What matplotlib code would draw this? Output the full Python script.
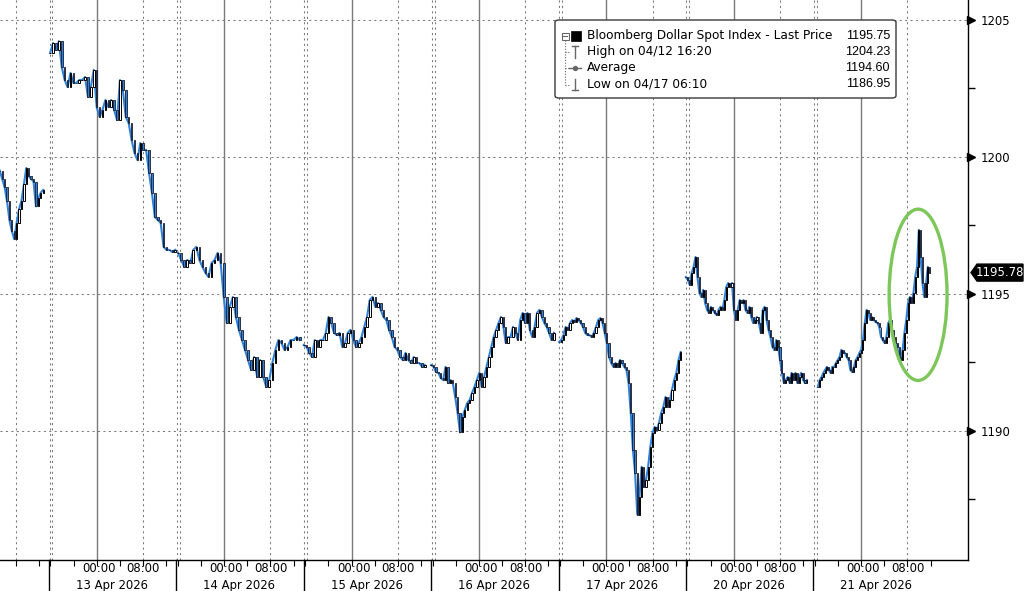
import numpy as np
import matplotlib
matplotlib.use("Agg")
import matplotlib.pyplot as plt
from matplotlib.patches import Polygon, Ellipse, FancyBboxPatch, Rectangle
from matplotlib.transforms import IdentityTransform
from matplotlib.lines import Line2D

plt.rcParams['font.family'] = ['DejaVu Sans']

# ---------------- data ----------------
session_dates = ["12 Apr 2026", "13 Apr 2026", "14 Apr 2026", "15 Apr 2026",
                 "16 Apr 2026", "17 Apr 2026", "20 Apr 2026", "21 Apr 2026"]
# hours after the 15:45 session open covered by each session's prints
session_span = [(13.5, 21.0), (0.2, 21.8), (0.3, 21.3), (0.0, 20.9),
                (0.0, 21.2), (0.1, 21.1), (0.0, 20.9), (0.8, 20.1)]

closes_12apr = [1199.5, 1199.2, 1198.9, 1198.4, 1197.7, 1197.3, 1197.0, 1197.6, 1198.1,
                1198.4, 1199.0, 1199.6, 1199.3, 1199.2, 1199.1, 1198.2, 1198.5, 1198.7, 1198.8]
closes_13apr = [1203.80, 1204.16, 1203.91, 1204.23, 1203.28, 1202.81, 1202.55, 1203.07, 1202.70,
                1202.70, 1202.81, 1202.81, 1202.92, 1202.19, 1202.55, 1203.18, 1201.82, 1201.46,
                1201.72, 1202.08, 1201.82, 1202.08, 1201.72, 1201.35, 1202.81, 1202.45, 1201.46,
                1201.24, 1200.62, 1200.15, 1199.89, 1200.51, 1200.26, 1200.26, 1199.42, 1198.69,
                1197.81, 1197.70, 1197.59, 1196.72, 1196.61, 1196.61, 1196.53, 1196.61]
closes_14apr = [1196.50, 1196.24, 1195.99, 1196.24, 1196.13, 1196.61, 1196.72, 1196.24, 1195.99,
                1195.77, 1195.62, 1196.13, 1196.24, 1196.50, 1196.13, 1194.89, 1193.94, 1194.53,
                1194.89, 1194.16, 1193.69, 1193.32, 1192.96, 1192.59, 1192.23, 1192.70, 1191.97,
                1192.59, 1191.97, 1191.61, 1191.86, 1192.48, 1192.96, 1193.32, 1193.21, 1192.96,
                1193.07, 1193.32, 1193.32, 1193.43, 1193.32]
closes_15apr = [1193.14, 1193.07, 1192.85, 1192.70, 1193.32, 1193.07, 1193.32, 1193.32, 1193.58,
                1194.16, 1193.94, 1193.58, 1193.50, 1193.58, 1193.07, 1193.21, 1193.58, 1193.69,
                1193.32, 1193.07, 1193.21, 1193.43, 1193.80, 1194.16, 1194.78, 1194.89, 1194.53,
                1194.67, 1194.42, 1194.16, 1194.05, 1193.69, 1193.43, 1193.07, 1192.96, 1192.70,
                1192.59, 1192.85, 1192.59, 1192.48, 1192.70, 1192.48, 1192.48, 1192.34, 1192.41]
closes_16apr = [1192.41, 1192.34, 1192.15, 1192.12, 1191.93, 1191.86, 1192.34, 1191.75, 1191.86,
                1191.75, 1191.24, 1190.66, 1189.95, 1190.51, 1190.77, 1191.02, 1191.13, 1191.39,
                1191.61, 1191.86, 1192.12, 1191.61, 1191.97, 1192.34, 1192.70, 1193.07, 1193.43,
                1193.69, 1193.94, 1194.16, 1193.80, 1193.21, 1193.43, 1193.43, 1193.80, 1193.58,
                1193.32, 1194.05, 1194.31, 1193.94, 1194.31, 1193.69, 1193.43, 1193.80, 1194.31,
                1194.42, 1194.16, 1193.94, 1193.80, 1193.58, 1193.32, 1193.58]
closes_17apr = [1193.25, 1193.32, 1193.50, 1193.80, 1193.69, 1193.94, 1194.05, 1193.98, 1194.12,
                1194.05, 1193.94, 1193.80, 1193.58, 1193.50, 1193.50, 1193.43, 1193.58, 1193.80,
                1194.05, 1194.12, 1193.94, 1193.58, 1193.21, 1192.70, 1192.48, 1192.34, 1192.48,
                1192.34, 1192.59, 1192.48, 1192.34, 1192.23, 1191.75, 1190.66, 1189.31, 1188.47,
                1186.95, 1187.60, 1188.69, 1187.96, 1188.21, 1188.69, 1189.42, 1189.93, 1190.15,
                1190.04, 1190.29, 1190.66, 1190.88, 1191.24, 1190.88, 1191.13, 1191.50, 1191.86,
                1192.12, 1192.59, 1192.88]
closes_20apr = [1195.62, 1195.51, 1195.33, 1195.77, 1195.99, 1196.35, 1195.62, 1195.04, 1194.89,
                1195.15, 1194.67, 1194.42, 1194.31, 1194.53, 1194.42, 1194.31, 1194.23, 1194.42,
                1194.53, 1194.42, 1194.78, 1195.26, 1195.40, 1195.26, 1195.40, 1194.42, 1194.05,
                1194.42, 1194.78, 1194.67, 1194.78, 1194.42, 1194.31, 1194.53, 1194.16, 1193.94,
                1194.05, 1194.16, 1193.94, 1193.58, 1194.42, 1194.53, 1194.05, 1193.69, 1193.43,
                1193.07, 1192.96, 1193.32, 1193.07, 1192.59, 1192.12, 1191.75, 1191.86, 1191.97,
                1191.75, 1192.12, 1191.86, 1192.12, 1191.75, 1191.97, 1192.12, 1191.86, 1191.75,
                1191.86]
closes_21apr = [1191.61, 1191.86, 1191.97, 1192.12, 1192.23, 1192.34, 1192.23, 1192.12, 1192.34,
                1192.34, 1192.48, 1192.59, 1192.70, 1192.96, 1192.85, 1192.85, 1192.70, 1192.59,
                1192.23, 1192.15, 1192.34, 1192.59, 1192.70, 1192.85, 1192.96, 1193.32, 1193.94,
                1194.42, 1194.31, 1194.05, 1194.16, 1194.05, 1193.98, 1193.94, 1193.80, 1193.43,
                1193.32, 1193.21, 1193.43, 1193.94, 1194.05, 1193.69, 1193.43, 1193.21, 1193.07,
                1192.70, 1192.59, 1192.96, 1193.58, 1194.05, 1194.67, 1194.89, 1194.67, 1195.04,
                1195.62, 1195.99, 1197.34, 1196.35, 1195.40, 1194.89, 1195.40, 1195.99, 1195.78]
session_closes = [closes_12apr, closes_13apr, closes_14apr, closes_15apr,
                  closes_16apr, closes_17apr, closes_20apr, closes_21apr]

legend_title = "Bloomberg Dollar Spot Index - Last Price"
last_price = 1195.75
high_label, high_value = "High on 04/12 16:20", 1204.23
avg_label, avg_value = "Average", 1194.60
low_label, low_value = "Low on 04/17 06:10", 1186.95
last_tag = 1195.78
y_major = [1190, 1195, 1200, 1205]
y_minor = [1187.5, 1192.5, 1197.5, 1202.5]

# ---------------- layout ----------------
W, H = 1025, 591
SESSION = 22.0          # hours per session (15:45 -> 13:45)
XLIM = (13.54, 180.72)
YLIM = (1185.29, 1205.73)
fig = plt.figure(figsize=(W / 100, H / 100), dpi=100)
ax = fig.add_axes([0, 1 - 560 / H, 968 / W, 560 / H])
ax.set_xlim(*XLIM)
ax.set_ylim(*YLIM)

BLUE = "#2f80d8"
GRID = "#7a7a7a"
DOT = (0, (2.0, 3.2))

# ---------------- price: line + candles ----------------
for i, (cl, (h0, h1)) in enumerate(zip(session_closes, session_span)):
    cl = np.asarray(cl, dtype=float)
    x = i * SESSION + np.linspace(h0, h1, len(cl))
    op = np.r_[cl[0], cl[:-1]]
    step = (h1 - h0) / max(len(cl) - 1, 1)
    ax.plot(x, cl, color=BLUE, lw=1.5, zorder=3, solid_joinstyle="round")
    up = cl >= op
    ax.bar(x[up], cl[up] - op[up], bottom=op[up], width=step * 0.55,
           facecolor="white", edgecolor="black", lw=0.7, zorder=4)
    ax.bar(x[~up], cl[~up] - op[~up], bottom=op[~up], width=step * 0.55,
           facecolor=BLUE, edgecolor="#1a1a2a", lw=0.6, zorder=4)

# ---------------- grid ----------------
for y in y_major:
    ax.axhline(y, color=GRID, lw=0.75, ls=DOT, zorder=1)
for i in range(len(session_dates)):
    s = i * SESSION
    ax.axvline(s + 8.25, color="#7a7a7a", lw=1.0, zorder=1)           # 00:00
    ax.axvline(s + 16.25, color=GRID, lw=0.75, ls=DOT, zorder=1)      # 08:00
    ax.axvline(s + 0.1, color=GRID, lw=0.75, ls=DOT, zorder=1)
    ax.axvline(s + 0.6, color=GRID, lw=0.75, ls=DOT, zorder=1)

# ---------------- spines / y axis ----------------
for side in ["left", "top"]:
    ax.spines[side].set_visible(False)
ax.spines["right"].set_linewidth(1.0)
ax.spines["bottom"].set_linewidth(1.0)
ax.yaxis.tick_right()
ax.set_yticks(y_major)
ax.set_yticklabels([str(v) for v in y_major])
ax.set_yticks(y_minor, minor=True)
ax.tick_params(axis="y", which="major", length=0, pad=9, labelsize=8.4, colors="black")
ax.tick_params(axis="y", which="minor", length=5, width=1.0, direction="out")
ytr = ax.get_yaxis_transform()
ax.plot([1.0035] * len(y_major), y_major, ls="none", marker=">", ms=5.5,
        color="black", transform=ytr, clip_on=False, zorder=6)

# ---------------- x axis ----------------
tick_offsets = [0.25, 4.25, 8.25, 12.25, 16.25, 20.25]
minor_x = [i * SESSION + o for i in range(len(session_dates)) for o in tick_offsets]
ax.set_xticks(minor_x)
ax.set_xticklabels([])
ax.tick_params(axis="x", length=4, width=0.8, direction="out")
xtr = ax.get_xaxis_transform()
for i, d in enumerate(session_dates):
    s = i * SESSION
    if s > XLIM[0]:
        ax.plot([s, s], [0, -0.07], color="black", lw=1.0, transform=xtr, clip_on=False)
    if s + 8.6 > XLIM[0]:
        ax.text(s + 8.6, -0.016, "00:00", transform=xtr, ha="center", va="center", fontsize=8.4)
    if s + 16.3 > XLIM[0] + 3:
        ax.text(s + 16.3, -0.016, "08:00", transform=xtr, ha="center", va="center", fontsize=8.4)
    if s + 10.9 > XLIM[0] + 5:
        ax.text(s + 10.9, -0.046, d, transform=xtr, ha="center", va="center", fontsize=8.4)

# limits again (set_xticks may widen the view)
ax.set_xlim(*XLIM)
ax.set_ylim(*YLIM)

# ---------------- last price tag ----------------
yd = ax.transData.transform((0, last_tag))[1]
tag = Polygon([[971, yd], [977, yd + 8.5], [1023, yd + 8.5], [1023, yd - 8.5], [977, yd - 8.5]],
              closed=True, facecolor="black", edgecolor="black", transform=IdentityTransform())
fig.add_artist(tag)
fig.text(1000 / W, yd / H, f"{last_tag:.2f}", color="white", ha="center", va="center",
         fontsize=8.4)

# ---------------- highlight ellipse ----------------
ax.add_patch(Ellipse((172.1, 1194.97), width=10.0, height=6.25, fill=False,
                     edgecolor="#7cc65a", lw=2.4, zorder=7))

# ---------------- legend ----------------
def P(x, y):
    return (x / W, 1 - y / H)

box = FancyBboxPatch(P(555, 98), 341 / W, 78 / H, boxstyle="round,pad=0,rounding_size=0.004",
                     transform=fig.transFigure, facecolor="white", edgecolor="#3a3a3a", lw=1.0,
                     zorder=10)
fig.add_artist(box)
ic = "#666666"
def L(xs, ys, **kw):
    fig.add_artist(Line2D([x / W for x in xs], [1 - y / H for y in ys],
                          transform=fig.transFigure, zorder=11, **kw))
L([565, 565], [40, 85], color=ic, lw=0.8, ls=(0, (1, 1.5)))
for yy in (52, 68, 85):
    L([565, 570], [yy, yy], color=ic, lw=0.8, ls=(0, (1, 1.5)))
fig.add_artist(Rectangle(P(561.5, 39.5), 7 / W, 7 / H, transform=fig.transFigure,
                         facecolor="white", edgecolor=ic, lw=0.8, zorder=11))
L([563, 567], [36, 36], color=ic, lw=0.8)
fig.add_artist(Rectangle(P(571, 41), 10 / W, 10 / H, transform=fig.transFigure,
                         facecolor="black", edgecolor="black", lw=0.5, zorder=11))
L([575, 575], [46, 58], color=ic, lw=1.0)
L([572, 578], [46, 46], color=ic, lw=1.0)
L([569, 581], [68, 68], color=ic, lw=1.0)
fig.add_artist(Line2D([575 / W], [1 - 68 / H], marker="o", ms=2.8, color=ic,
                      transform=fig.transFigure, zorder=11))
L([575, 575], [79, 90], color=ic, lw=1.0)
L([572, 578], [90, 90], color=ic, lw=1.0)

rows = [(legend_title, last_price), (high_label, high_value),
        (avg_label, avg_value), (low_label, low_value)]
for k, (lab, val) in enumerate(rows):
    yy = 36 + 16 * k
    fig.text(*P(587, yy), lab, ha="left", va="center", fontsize=8.7, zorder=12)
    fig.text(*P(890, yy), f"{val:.2f}", ha="right", va="center", fontsize=9.0,
             family=["Liberation Sans", "DejaVu Sans"], zorder=12)

fig.savefig("out.png", dpi=100, facecolor="white")
